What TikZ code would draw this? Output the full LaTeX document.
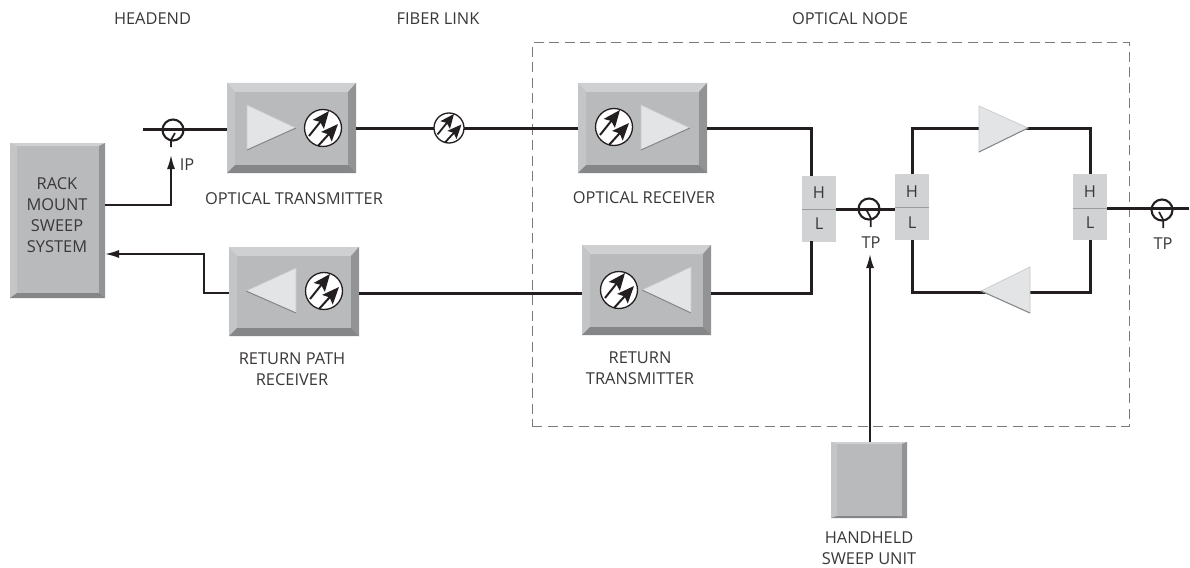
\documentclass[tikz,border=0pt]{standalone}
\usepackage{fontspec}
\setmainfont{Open Sans}
\usetikzlibrary{arrows.meta,calc}
\definecolor{face}{HTML}{B9BABC}
\definecolor{btop}{HTML}{CFD0D2}
\definecolor{bleft}{HTML}{C4C5C7}
\definecolor{bright}{HTML}{929395}
\definecolor{bbot}{HTML}{858687}
\definecolor{ampfill}{HTML}{E3E4E5}
\definecolor{ampedge}{HTML}{858688}
\definecolor{ampsoft}{HTML}{C9CACC}
\definecolor{hlfill}{HTML}{D1D2D4}
\definecolor{hlline}{HTML}{9A9B9D}
\definecolor{ink}{HTML}{231F20}
\definecolor{txt}{HTML}{3A3738}
\tikzset{
  wire/.style={draw=ink,line width=3pt},
  thin wire/.style={draw=ink,line width=1.7pt},
  label/.style={text=txt,font=\fontsize{16.4}{21}\selectfont,align=center,inner sep=0pt},
  tapnode/.style={circle,draw=ink,line width=2.1pt,minimum size=21pt,inner sep=0pt},
  opticnode/.style={circle,draw=ink,fill=white,line width=1.3pt,minimum size=37pt,inner sep=0pt},
  opticsmall/.style={circle,draw=ink,fill=white,line width=1.3pt,minimum size=30pt,inner sep=0pt},
  amp/.style={fill=ampfill,draw=ampsoft,line width=.7pt,line join=miter},
  ampline/.style={draw=ampedge,line width=1pt},
  hlbox/.style={fill=hlfill,draw=none,minimum width=34pt,minimum height=66pt,inner sep=0pt},
  optarrow/.style={draw=ink,line width=2pt,-{Stealth[length=17pt,width=14pt,inset=3pt]}},
  optarrowsmall/.style={draw=ink,line width=1.8pt,-{Stealth[length=14pt,width=12pt,inset=2.5pt]}},
  sigarrow/.style={thin wire,-{Latex[length=14pt,width=8pt]}},
  boxnode/.style={inner sep=0pt,outer sep=0pt,fill=face},
}
% name, x0, y0, x1, y1, left, top, right, bottom bevels
\newcommand{\bevelbox}[9]{%
  \node[boxnode,minimum width=#4pt-#2pt,minimum height=#5pt-#3pt] (#1) at ({(#2+#4)/2},{(#3+#5)/2}) {};
  \fill[btop] (#2,#3) -- (#4,#3) -- (#4-#8,#3+#7) -- (#2+#6,#3+#7) -- cycle;
  \fill[bleft] (#2,#3) -- (#2+#6,#3+#7) -- (#2+#6,#5-#9) -- (#2,#5) -- cycle;
  \fill[bright] (#4,#3) -- (#4-#8,#3+#7) -- (#4-#8,#5-#9) -- (#4,#5) -- cycle;
  \fill[bbot] (#2,#5) -- (#2+#6,#5-#9) -- (#4-#8,#5-#9) -- (#4,#5) -- cycle;
}
% name, x, y
\newcommand{\optic}[3]{%
  \node[opticnode] (#1) at (#2,#3) {};
  \begin{scope}[shift={(#2,#3)}]
    \draw[optarrow] (-14,8) -- (6,-17);
    \draw[optarrow] (-5,18) -- (15,-4);
  \end{scope}
}
% right-pointing amp: base x, tip x, tip y, top y, bottom y
\newcommand{\ampR}[5]{%
  \filldraw[amp] (#1,#4) -- (#2,#3) -- (#1,#5) -- cycle;
  \draw[ampline] (#1,#5) -- (#2,#3);
}
\begin{document}
\begin{tikzpicture}[x=1pt,y=-1pt]
\useasboundingbox (0,0) rectangle (1190,567);
\fill[white] (0,0) rectangle (1190,567);
% dashed frame
\node[draw=ink!60,line width=1pt,minimum width=597pt,minimum height=383pt,inner sep=0pt,dash pattern=on 10pt off 5.5pt] (frame) at (830.5,234.5) {};
% boxes
\bevelbox{rack}{10}{143}{105}{298}{7}{3}{6}{5}
\bevelbox{otx}{227}{83}{356}{173}{8}{9}{8}{8}
\bevelbox{orx}{578}{83}{707}{173}{8}{9}{8}{8}
\bevelbox{rpr}{229}{247}{359}{336}{8}{9}{8}{8}
\bevelbox{rtx}{582}{245}{711}{335}{8}{9}{8}{8}
\bevelbox{hand}{831}{442}{907}{518}{6}{2}{5}{2}
% HL boxes
\node[hlbox] (hl1) at (819,208.5) {};
\node[hlbox] (hl2) at (912,207) {};
\node[hlbox] (hl3) at (1090,207) {};
\draw[hlline,line width=.8pt] (hl1.west |- 0,209) -- (hl1.east |- 0,209);
\draw[hlline,line width=.8pt] (hl2.west |- 0,207) -- (hl2.east |- 0,207);
\draw[hlline,line width=.8pt] (hl3.west |- 0,208) -- (hl3.east |- 0,208);
\node[label] (h1) at (819,193) {H};
\node[label] (l1) at (819,224) {L};
\node[label] (h2) at (912,192) {H};
\node[label] (l2) at (912,223) {L};
\node[label] (h3) at (1090,192) {H};
\node[label] (l3) at (1090,223) {L};
% coordinates
\coordinate (ipstart) at (143,129);
\coordinate (lineend) at (1189,208);
% taps
\node[tapnode] (ip) at (173,130) {};
\node[tapnode] (tp1) at (869,209) {};
\node[tapnode] (tp2) at (1162,210) {};
\draw[line width=1.7pt,draw=ink] (175,133) -- (171,140) -- (171,147);
\draw[line width=1.7pt,draw=ink] (866.5,210) -- (870.8,218) -- (870.8,227);
\draw[line width=1.7pt,draw=ink] (1159,212) -- (1163.3,220) -- (1163.3,228);
% main wires
\draw[wire] (ipstart) -- (otx.west |- ipstart);
\draw[wire] (otx.east) -- (orx.west);
\draw[wire] (orx.east) -| (811,176);
\draw[wire] (rtx.east |- 0,293) -| (811,241);
\draw[wire] (rpr.east |- 0,293) -- (rtx.west |- 0,293);
\draw[wire] (hl1.east |- tp1) -- (hl2.west |- tp1);
\draw[wire] (hl2.north) -- (912,128) -- (1090,128) -- (hl3.north);
\draw[wire] (hl2.south) -- (912,292) -- (1090,292) -- (hl3.south);
\draw[wire] (hl3.east |- lineend) -- (lineend);
% signal arrows
\draw[sigarrow] (rack.east |- 0,205) -| (171,155);
\draw[sigarrow] (rpr.west |- 0,293) -| (204,254) -- (rack.east |- 0,254);
\draw[sigarrow] (hand.north -| 870,0) -- (870,254);
% amplifiers
\ampR{247}{296}{128}{105}{150}
\ampR{641}{690}{128}{105}{150}
\ampR{296}{246}{291}{268}{313}
\ampR{691}{642}{290}{267}{313}
\ampR{979}{1028}{128}{106}{152}
\ampR{1030}{981}{291}{267}{313}
% optics
\optic{o1}{323}{128}
\optic{o3}{614}{127}
\optic{o4}{324}{291}
\optic{o5}{619}{290}
\node[opticsmall] (o2) at (449,128) {};
\begin{scope}[shift={(449,128)}]
  \draw[optarrowsmall] (-11.5,6.5) -- (5,-14);
  \draw[optarrowsmall] (-4,14.5) -- (12.5,-3.5);
\end{scope}
% labels
\node[label] (t1) at (152.5,19) {HEADEND};
\node[label] (t2) at (438,19) {FIBER LINK};
\node[label] (t3) at (850,19) {OPTICAL NODE};
\node[label] (t4) at (294,199) {OPTICAL TRANSMITTER};
\node[label] (t5) at (644,198) {OPTICAL RECEIVER};
\node[label] (t6) at (292,369) {RETURN PATH\\RECEIVER};
\node[label] (t7) at (640,368) {RETURN\\TRANSMITTER};
\node[label] (t8) at (869,548) {HANDHELD\\SWEEP UNIT};
\node[label] (t9) at (57,215.5) {RACK\\MOUNT\\SWEEP\\SYSTEM};
\node[label] (t10) at (187,165) {IP};
\node[label] (t11) at (871,243) {TP};
\node[label] (t12) at (1163,244) {TP};
\end{tikzpicture}
\end{document}
